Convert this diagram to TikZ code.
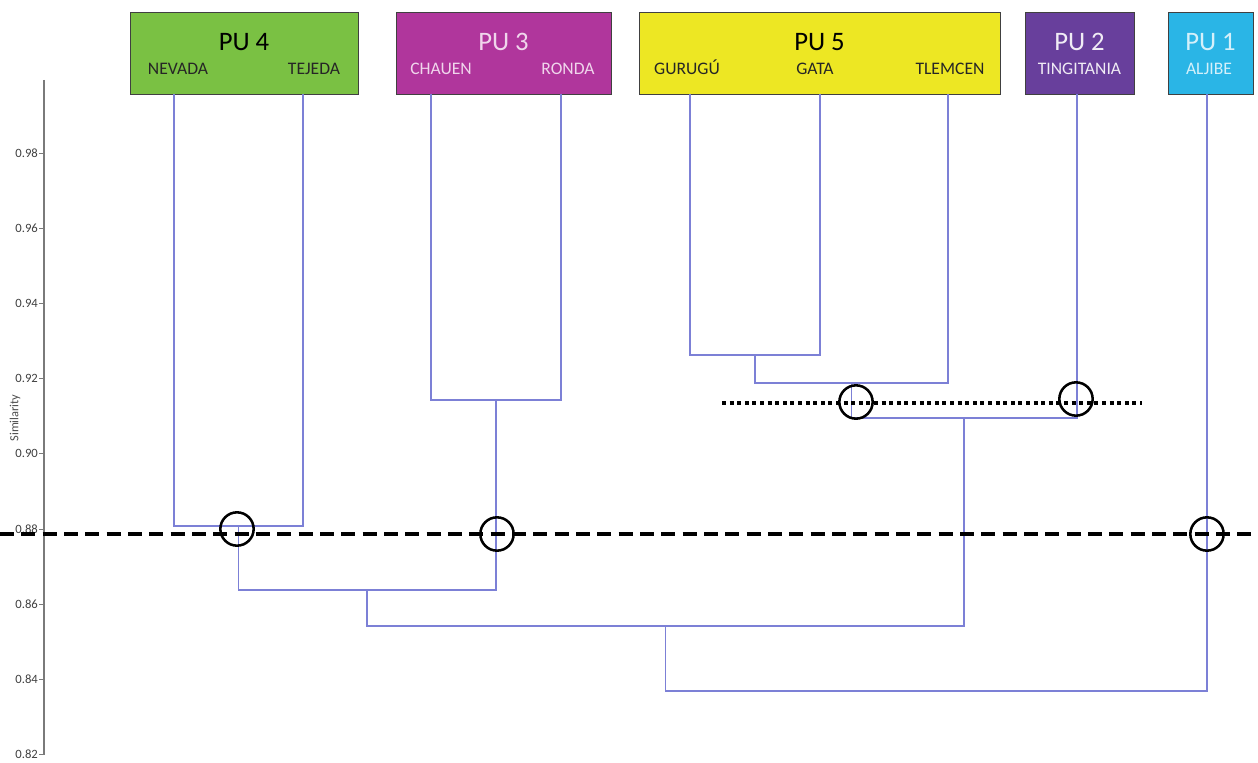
\documentclass[tikz,border=0pt]{standalone}
\usepackage{fontspec}
\setmainfont{Carlito}
\definecolor{pufour}{HTML}{7AC143}
\definecolor{puthree}{HTML}{B0369C}
\definecolor{pufive}{HTML}{EDE723}
\definecolor{putwo}{HTML}{683F9C}
\definecolor{puone}{HTML}{2AB5E6}
\definecolor{linkc}{HTML}{7C80D6}
\definecolor{axisc}{HTML}{7A7A7A}
\definecolor{lighttxt}{HTML}{F0D6EC}
\begin{document}
\begin{tikzpicture}[x=0.75pt,y=-0.75pt,
  link/.style={draw=linkc, line width=0.8pt},
  pubox/.style={draw=black!75, line width=0.7pt, inner sep=0pt},
  putitle/.style={font=\fontsize{20}{22}\selectfont, inner sep=0pt, anchor=base},
  pusub/.style={font=\fontsize{13.2}{15}\selectfont, inner sep=0pt, anchor=base},
  circ/.style={circle, draw=black, line width=1.9pt, minimum size=25pt, inner sep=0pt},
  ticklab/.style={font=\fontsize{9.5}{10}\selectfont, text=black!75, anchor=east, inner sep=1pt}]
\useasboundingbox (0,0) rectangle (1258,763);
% axis
\coordinate (axT) at (44,80);
\coordinate (axB) at (44,755);
\draw[axisc, line width=1pt] (axT) -- (axB);
\foreach \v/\y in {0.98/153,0.96/228,0.94/303,0.92/378,0.90/453,0.88/529,0.86/604,0.84/679,0.82/754}{
  \draw[axisc, line width=0.6pt] (39,\y) -- (44,\y);
  \node[ticklab] at (39.5,\y) {\v};
}
\node[font=\fontsize{9.3}{10}\selectfont, text=black!70, rotate=90] (simlab) at (15,418) {Similarity};
% boxes
\node[pubox, fill=pufour, minimum width=171pt, minimum height=61.5pt] (pu4) at (244,53) {};
\node[pubox, fill=puthree, minimum width=161.25pt, minimum height=61.5pt] (pu3) at (503.5,53) {};
\node[pubox, fill=pufive, minimum width=270.75pt, minimum height=61.5pt] (pu5) at (819.5,53) {};
\node[pubox, fill=putwo, minimum width=81.75pt, minimum height=61.5pt] (pu2) at (1079.5,53) {};
\node[pubox, fill=puone, minimum width=63.75pt, minimum height=61.5pt] (pu1) at (1210.5,53) {};
\node[putitle, text=black] (t4) at (244,51) {PU 4};
\node[putitle, text=lighttxt] (t3) at (503.5,51) {PU 3};
\node[putitle, text=black] (t5) at (819.5,51) {PU 5};
\node[putitle, text=white!90!putwo] (t2) at (1079.5,51) {PU 2};
\node[putitle, text=white!80!puone] (t1) at (1210.5,51) {PU 1};
\node[pusub, text=black!85] (lnev) at (178,75) {NEVADA};
\node[pusub, text=black!85] (ltej) at (314,75) {TEJEDA};
\node[pusub, text=lighttxt] (lcha) at (441,75) {CHAUEN};
\node[pusub, text=lighttxt] (lron) at (568,75) {RONDA};
\node[pusub, text=black!85] (lgur) at (687,75) {GURUGÚ};
\node[pusub, text=black!85] (lgat) at (815,75) {GATA};
\node[pusub, text=black!85] (ltle) at (950,75) {TLEMCEN};
\node[pusub, text=white!90!putwo] (ltin) at (1079.5,75) {TINGITANIA};
\node[pusub, text=white!80!puone] (lalj) at (1209,75) {ALJIBE};
% leaves
\coordinate (nev) at (174,94);
\coordinate (tej) at (303,94);
\coordinate (cha) at (431,94);
\coordinate (ron) at (561,94);
\coordinate (gur) at (690,94);
\coordinate (gat) at (820,94);
\coordinate (tle) at (948,94);
\coordinate (tin) at (1077,94);
\coordinate (alj) at (1207,94);
% joins
\coordinate (a1) at (238.5,526);
\coordinate (a2) at (496,400);
\coordinate (a3) at (755,355);
\coordinate (a4) at (851.5,383);
\coordinate (a5) at (964,418);
\coordinate (a6) at (367,590);
\coordinate (a7) at (665.5,626);
\coordinate (a8) at (936,691);
\draw[link] (nev) |- (a1) -| (tej);
\draw[link] (cha) |- (a2) -| (ron);
\draw[link] (gur) |- (a3) -| (gat);
\draw[link] (a3) |- (a4) -| (tle);
\draw[link] (a4) |- (a5) -| (tin);
\draw[link] (a1) |- (a6) -| (a2);
\draw[link] (a6) |- (a7) -| (a5);
\draw[link] (a7) |- (a8) -| (alj);
% cut lines
\coordinate (dL) at (0,534);
\coordinate (dR) at (1258,534);
\draw[black, line width=3pt, dash pattern=on 10.5pt off 5.5pt] (dL) -- (dR);
\coordinate (oL) at (722,403);
\coordinate (oR) at (1142,403);
\draw[black, line width=2.3pt, dash pattern=on 3pt off 2.7pt] (oL) -- (oR);
% circles
\node[circ] (c1) at (237,529) {};
\node[circ] (c2) at (497,534) {};
\node[circ] (c3) at (1207,534) {};
\node[circ] (c4) at (856,402) {};
\node[circ] (c5) at (1076,399) {};
\end{tikzpicture}
\end{document}
